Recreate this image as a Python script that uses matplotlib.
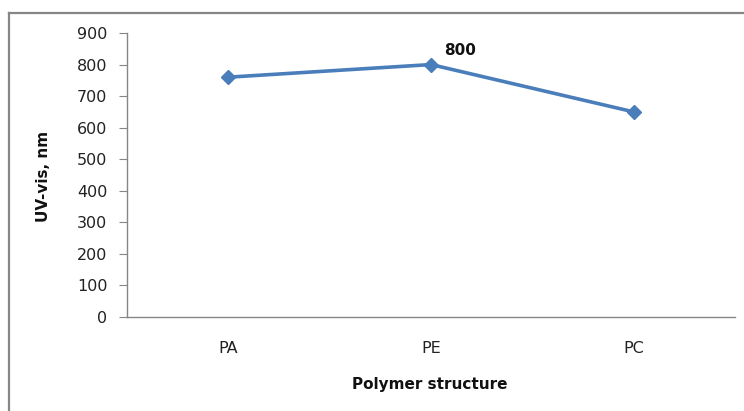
import matplotlib.pyplot as plt
from matplotlib.lines import Line2D

# %% Daten
categories = ["PA", "PE", "PC"]
uv_vis = [760, 800, 650]
y_ticks = [0, 100, 200, 300, 400, 500, 600, 700, 800, 900]

plt.rcParams["font.family"] = ["DejaVu Sans"]

W, H = 744, 411
fig = plt.figure(figsize=(W / 100, H / 100), dpi=100)
ax = fig.add_axes([127 / W, 1 - 317 / H, 608 / W, 284 / H])

x = range(len(categories))
ax.plot(x, uv_vis, color="#4A7EBB", lw=2.6, marker="D", ms=7, mec="#4A7EBB")
ax.annotate(f"{uv_vis[1]}", (1, uv_vis[1]), xytext=(9.5, 10), textcoords="offset points",
            fontsize=11, fontweight="bold", va="center", ha="left", color="#111111")

ax.set_xlim(-0.5, len(categories) - 0.5)
ax.set_ylim(0, 900)
ax.set_xticks(list(x))
ax.set_xticklabels(categories)
ax.set_yticks(y_ticks)
ax.tick_params(axis="y", direction="out", length=6, color="#868686", labelsize=11.5, pad=8,
               labelcolor="#222222")
ax.tick_params(axis="x", length=0, labelsize=11.5, pad=17, labelcolor="#222222")
for s in ["top", "right"]:
    ax.spines[s].set_visible(False)
for s in ["left", "bottom"]:
    ax.spines[s].set_color("#868686")
    ax.spines[s].set_linewidth(1)

fig.text(44 / W, 1 - 176 / H, "UV-vis, nm", rotation=90, fontsize=11, fontweight="bold",
         ha="center", va="center", color="#111111")
fig.text(430 / W, 1 - 384 / H, "Polymer structure", fontsize=11, fontweight="bold",
         ha="center", va="center", color="#111111")

# Rahmen (oben und links)
fig.add_artist(Line2D([9 / W, 1], [1 - 13 / H, 1 - 13 / H], transform=fig.transFigure,
                      color="#868686", lw=1.6))
fig.add_artist(Line2D([9 / W, 9 / W], [0, 1 - 13 / H], transform=fig.transFigure,
                      color="#868686", lw=1.6))

fig.savefig("out.png", dpi=100)
